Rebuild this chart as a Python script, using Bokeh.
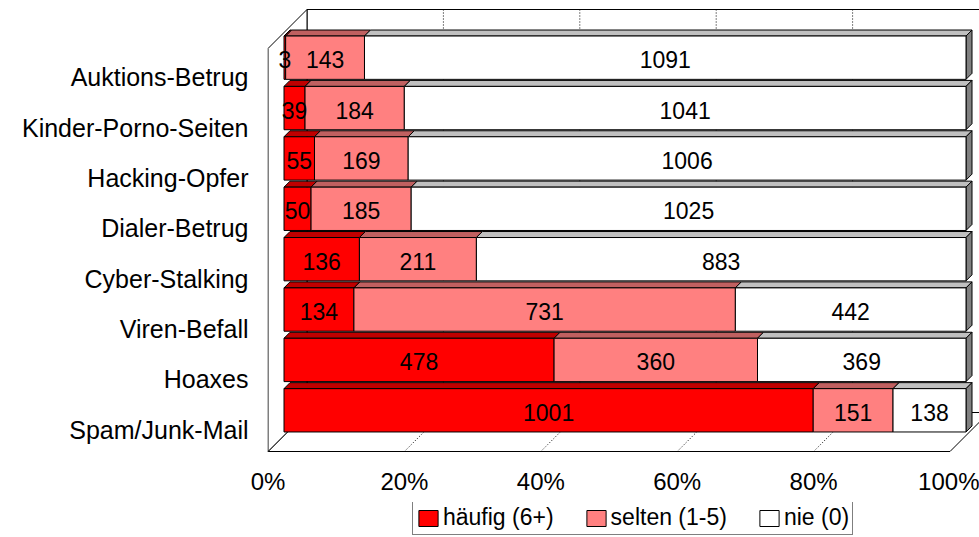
import numpy as np
from bokeh.plotting import figure
from bokeh.layouts import column
from bokeh.models import Range1d, FixedTicker, ColumnDataSource, Legend, LegendItem
from bokeh.embed import file_html
from bokeh.resources import INLINE
from bokeh.core.properties import value

# ---------------- data ----------------
categories = ["Spam/Junk-Mail", "Hoaxes", "Viren-Befall", "Cyber-Stalking",
              "Dialer-Betrug", "Hacking-Opfer", "Kinder-Porno-Seiten", "Auktions-Betrug"]
haeufig = [1001, 478, 134, 136, 50, 55, 39, 3]
selten = [151, 360, 731, 211, 185, 169, 184, 143]
nie = [138, 369, 442, 883, 1025, 1006, 1041, 1091]
series_names = ["häufig (6+)", "selten (1-5)", "nie (0)"]
x_ticks = [0, 20, 40, 60, 80, 100]
x_tick_labels = ["0%", "20%", "40%", "60%", "80%", "100%"]

# ---------------- style / geometry ----------------
FONT = "Liberation Sans"
front_colors = ["#FF0000", "#FF8080", "#FFFFFF"]
top_colors = ["#C00000", "#C06060", "#C0C0C0"]
END_COLOR = "#808080"

W = 979
H1, H2 = 502, 35
LEFT, BOTTOM = 267, 49
FW, FH = W - LEFT, H1 - BOTTOM
PXX = 6.82      # pixels per percent
PXY = 50.375    # pixels per category slot
X0 = -0.5 / PXX
Y0 = -2 / PXY


def dx(px):
    return px / PXX


def dy(px):
    return px / PXY


n = len(categories)
DX, DY = dx(39), dy(39)          # full depth of the box
BX, BY = dx(16), dy(16)          # plane of bars
DDX, DDY = dx(6), dy(6)          # bar depth
BAR_H = 0.86

p = figure(width=W, height=H1,
           min_border_left=LEFT, min_border_right=0, min_border_top=0, min_border_bottom=BOTTOM,
           x_range=Range1d(X0, X0 + FW / PXX), y_range=Range1d(Y0, Y0 + FH / PXY),
           output_backend="svg", toolbar_location=None)
p.outline_line_color = None
p.xgrid.visible = False
p.ygrid.visible = False
p.background_fill_color = "white"
p.border_fill_color = "white"

# walls
p.patch([DX, 100 + DX, 100 + DX, DX], [DY, DY, n + DY, n + DY],
        fill_color="white", line_color="black", line_width=1)
p.patch([0, 100, 100 + DX, DX], [0, 0, DY, DY],
        fill_color="white", line_color="black", line_width=1)
p.patch([0, DX, DX, 0], [0, DY, n + DY, n],
        fill_color="white", line_color="black", line_width=1)

# gridlines
gx = [t for t in x_ticks if 0 < t < 100]
p.multi_line([[t + DX, t + DX] for t in gx], [[DY, n + DY] for t in gx],
             line_color="black", line_dash="1 2", line_width=1)
p.multi_line([[t, t + DX] for t in gx], [[0, DY] for t in gx],
             line_color="black", line_dash="1 2", line_width=1)

# bars
vals = np.array([haeufig, selten, nie], dtype=float)
totals = vals.sum(axis=0)
pct = vals / totals * 100
cum = np.vstack([np.zeros(n), np.cumsum(pct, axis=0)])
yc = np.arange(n) + 0.5 + BY
bottom = yc - BAR_H / 2
top = yc + BAR_H / 2

for j in range(3):
    l = cum[j] + BX
    r = cum[j + 1] + BX
    xs = [[l[i], r[i], r[i] + DDX, l[i] + DDX] for i in range(n)]
    ys = [[top[i], top[i], top[i] + DDY, top[i] + DDY] for i in range(n)]
    p.patches(xs, ys, fill_color=top_colors[j], line_color="black", line_width=1)
    if j == 2:
        xs = [[r[i], r[i] + DDX, r[i] + DDX, r[i]] for i in range(n)]
        ys = [[bottom[i], bottom[i] + DDY, top[i] + DDY, top[i]] for i in range(n)]
        p.patches(xs, ys, fill_color=END_COLOR, line_color="black", line_width=1)

sources = []
for j in range(3):
    src = ColumnDataSource(dict(left=cum[j] + BX, right=cum[j + 1] + BX, bottom=bottom, top=top))
    sources.append(src)
    p.quad(left="left", right="right", bottom="bottom", top="top", source=src,
           fill_color=front_colors[j], line_color="black", line_width=1)

for j in range(3):
    l = cum[j] + BX
    r = cum[j + 1] + BX
    tsrc = ColumnDataSource(dict(x=(l + r) / 2, y=yc - dy(2), t=[str(int(v)) for v in vals[j]]))
    p.text(x="x", y="y", text="t", source=tsrc, text_font=value(FONT),
           text_font_size="23px", text_align="center", text_baseline="middle",
           text_color="black")

# axes
for ax in (p.xaxis[0], p.yaxis[0]):
    ax.axis_line_color = None
    ax.major_tick_line_color = None
    ax.minor_tick_line_color = None
    ax.major_tick_out = 0
    ax.major_tick_in = 0
    ax.minor_tick_out = 0
    ax.minor_tick_in = 0
    ax.axis_label = None
    ax.axis_label_standoff = 0
    ax.major_label_text_font = FONT
    ax.major_label_text_color = "black"

p.xaxis.ticker = FixedTicker(ticks=x_ticks)
p.xaxis.major_label_overrides = {t: s for t, s in zip(x_ticks, x_tick_labels)}
p.xaxis.major_label_standoff = 14
p.xaxis.major_label_text_font_size = "24px"

yt = [i + 0.5 - 0.07 for i in range(n)]
p.yaxis.ticker = FixedTicker(ticks=yt)
p.yaxis.major_label_overrides = {t: c for t, c in zip(yt, categories)}
p.yaxis.major_label_standoff = 19
p.yaxis.major_label_text_font_size = "25px"

# ---------------- legend strip (frame aligned with the main plot's frame) ----------------
p2 = figure(width=W, height=H2, min_border_left=LEFT, min_border_right=0,
            min_border_top=0, min_border_bottom=0,
            x_range=Range1d(-300, -200), y_range=Range1d(-300, -200),
            output_backend="svg", toolbar_location=None)
p2.axis.visible = False
p2.xgrid.visible = False
p2.ygrid.visible = False
p2.outline_line_color = None
p2.border_fill_color = "white"
p2.background_fill_color = "white"
leg_renderers = [p2.quad(left="left", right="right", bottom="bottom", top="top", source=src,
                         fill_color=c, line_color="black", line_width=1)
                 for src, c in zip(sources, front_colors)]
legend = Legend(items=[LegendItem(label=nm, renderers=[r]) for nm, r in zip(series_names, leg_renderers)],
                orientation="horizontal", location=(412 - LEFT, 2),
                label_text_font=FONT, label_text_font_size="23px", label_text_color="black",
                glyph_width=24, glyph_height=20, label_standoff=3, spacing=30,
                padding=3, margin=0, border_line_color="black", border_line_width=1,
                background_fill_alpha=1.0)
p2.add_layout(legend, "center")

layout = column(p, p2, spacing=0)
open("out.html", "w").write(file_html(layout, INLINE))
